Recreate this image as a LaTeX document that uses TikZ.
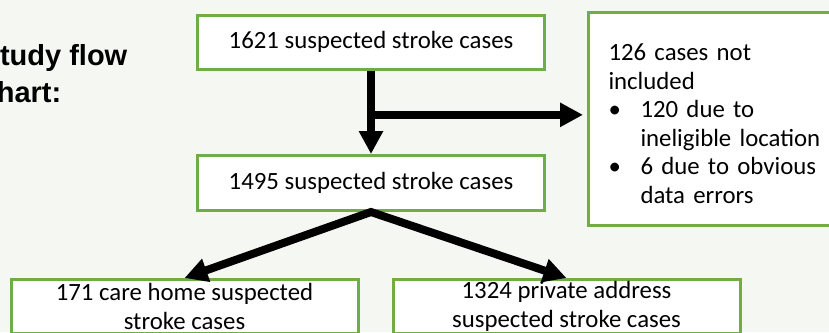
\documentclass[tikz,border=0pt]{standalone}
\usepackage{fontspec}
\setmainfont{Carlito}
\newfontfamily\titlefont{Liberation Sans}
\usetikzlibrary{arrows.meta, positioning, calc}
\definecolor{boxgreen}{RGB}{112,173,71}
\definecolor{paper}{RGB}{245,248,242}

\begin{document}
\begin{tikzpicture}[
    x=1pt, y=-1pt,
    font=\fontsize{24.8}{28.5}\selectfont,
    flow box/.style={
        draw=boxgreen,
        fill=white,
        line width=3pt,
        minimum width=347pt,
        inner sep=0pt,
        align=center
    },
    flow arrow/.style={
        -{Triangle[length=23pt, width=23pt]},
        line width=8pt
    },
    title label/.style={
        font=\titlefont\bfseries\fontsize{29}{37}\selectfont,
        inner sep=0pt,
        align=left
    }
]
    \useasboundingbox (0,0) rectangle (829,332);
    \fill[paper] (0,0) rectangle (829,332);

    \node[title label, anchor=base west] (title) at (-19.5,102) {Study flow\\chart:};

    \node[flow box, minimum height=54pt] (screened) at (371,42.2) {1621 suspected stroke cases};
    \node[flow box, minimum height=55pt] (included) at (371,183) {1495 suspected stroke cases};

    % --- Excluded cases ---
    \node[flow box, anchor=north west, minimum width=300pt, minimum height=213pt,
          text width=260pt, inner xsep=20pt, align=left] (excluded) at (587,11) {%
        \rule{0pt}{26pt}126 cases not\\
        included\\
        \makebox[32pt][l]{\textbullet}120 due to\\
        \hspace*{32pt}ineligible location\\
        \makebox[32pt][l]{\textbullet}6 due to obvious\\
        \hspace*{32pt}data errors};

    % --- Split by address ---
    \node[flow box, anchor=north, minimum height=54pt] (carehome) at (184.5,278) {171 care home suspected\\stroke cases};
    \node[flow box, anchor=north, minimum height=54pt] (private) at (566.5,278) {1324 private address\\suspected stroke cases};

    \coordinate (split) at ($(screened.south)!0.53!(included.north)$);

    \draw[flow arrow] (screened) -- (included);
    \draw[flow arrow, shorten >=4pt] (split) -- (split -| excluded.west);

    \draw[{Triangle[length=23pt, width=23pt]}-{Triangle[length=23pt, width=23pt]},
          line width=8pt, line join=miter]
        (carehome.north) -- (included.south) -- (private.north);

\end{tikzpicture}
\end{document}
